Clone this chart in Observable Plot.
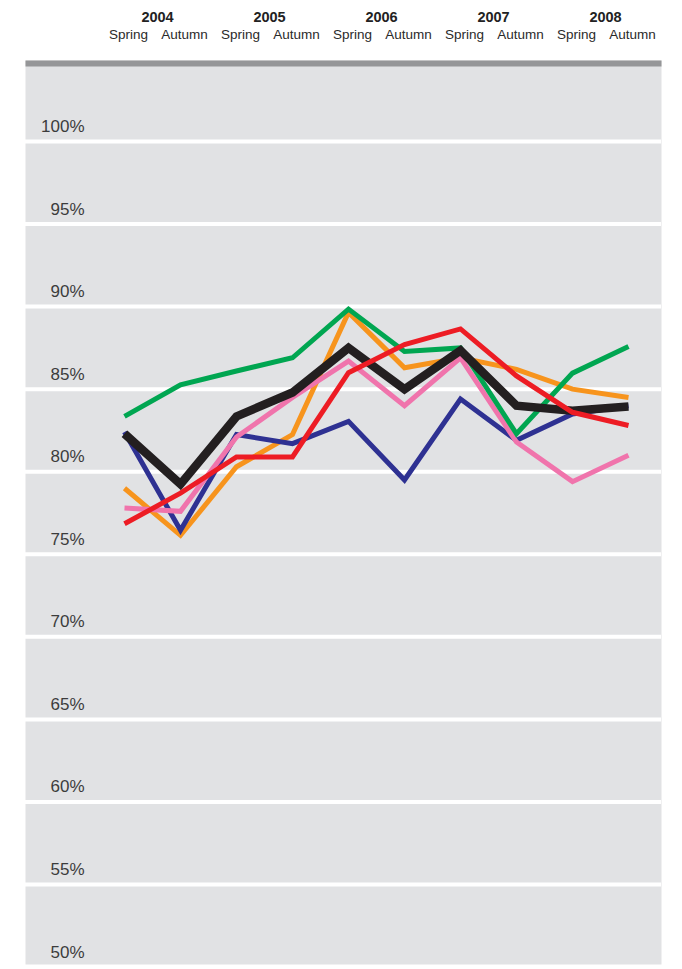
<!DOCTYPE html>
<html>
<head>
<meta charset="utf-8">
<script src="https://cdn.jsdelivr.net/npm/d3@7"></script>
<script src="https://cdn.jsdelivr.net/npm/@observablehq/plot@0.6"></script>
<style>
  html, body { margin: 0; padding: 0; background: #fff; }
  #chart svg { display: block; }
</style>
</head>
<body>
<div id="chart"></div>
<script>
// ---- data ----
const periods = ["S2004","A2004","S2005","A2005","S2006","A2006","S2007","A2007","S2008","A2008"];
const seasons = ["Spring","Autumn","Spring","Autumn","Spring","Autumn","Spring","Autumn","Spring","Autumn"];
const years = ["2004","2005","2006","2007","2008"];
const yTicks = [50,55,60,65,70,75,80,85,90,95,100];

const orange = [79.0, 76.15, 80.3, 82.25, 89.65, 86.3, 86.9, 86.2, 85.0, 84.5];
const blue   = [82.4, 76.45, 82.25, 81.7, 83.05, 79.5, 84.4, 81.9, 83.5, 84.0];
const pink   = [77.8, 77.6, 82.1, 84.5, 86.7, 84.0, 86.9, 81.8, 79.4, 81.0];
const green  = [83.35, 85.27, 86.1, 86.9, 89.85, 87.28, 87.5, 82.3, 85.97, 87.58];
const black  = [82.3, 79.25, 83.35, 84.8, 87.5, 85.0, 87.34, 84.0, 83.7, 83.95];
const red    = [76.85, 78.7, 80.9, 80.9, 86.0, 87.7, 88.65, 85.8, 83.6, 82.8];

const seriesList = [
  {name: "orange", values: orange, color: "#f7941d", width: 5},
  {name: "blue",   values: blue,   color: "#2e3192", width: 5},
  {name: "pink",   values: pink,   color: "#f074ac", width: 5},
  {name: "green",  values: green,  color: "#00a651", width: 5},
  {name: "black",  values: black,  color: "#231f20", width: 8.5},
  {name: "red",    values: red,    color: "#ed1c24", width: 5}
];

const seasonRows = periods.map((p, i) => ({period: p, label: seasons[i]}));
const yearRows = years.map((y, i) => ({period: periods[i * 2], label: y}));

const lineMarks = seriesList.map(s =>
  Plot.line(periods.map((p, i) => ({period: p, value: s.values[i]})), {
    x: "period", y: "value",
    stroke: s.color, strokeWidth: s.width,
    strokeLinejoin: "miter", strokeLinecap: "butt", strokeMiterlimit: 10
  })
);

const chart = Plot.plot({
  width: 682,
  height: 969,
  marginLeft: 25,
  marginRight: 21,
  marginTop: 60,
  marginBottom: 5,
  style: {fontFamily: "'Liberation Sans', Arial, sans-serif", background: "#fff", overflow: "visible"},
  x: {type: "point", domain: periods, range: [123, 629], padding: 0, align: 0.5, axis: null},
  y: {domain: [50, 100], range: [966.6, 141], axis: null},
  marks: [
    Plot.frame({fill: "#e1e2e4", stroke: "none"}),
    Plot.ruleY(yTicks, {stroke: "#ffffff", strokeWidth: 4}),
    Plot.frame({anchor: "top", stroke: "#959698", strokeWidth: 6, dy: 3, strokeLinecap: "butt"}),
    Plot.text(yTicks, {
      y: d => d, text: d => d + "%", frameAnchor: "left", textAnchor: "end",
      dx: 59, dy: -15, fontSize: 17, fill: "#3c3c3c", fontWeight: 300
    }),
    Plot.text(seasonRows, {
      x: "period", text: "label", frameAnchor: "top", dy: -31, dx: 4,
      fontSize: 13.5, fill: "#2a2a2a"
    }),
    Plot.text(yearRows, {
      x: "period", text: "label", frameAnchor: "top", dy: -49, dx: 33,
      fontSize: 14.5, fontWeight: "bold", fill: "#222"
    }),
    ...lineMarks
  ]
});

document.getElementById("chart").appendChild(chart);
</script>
</body>
</html>
